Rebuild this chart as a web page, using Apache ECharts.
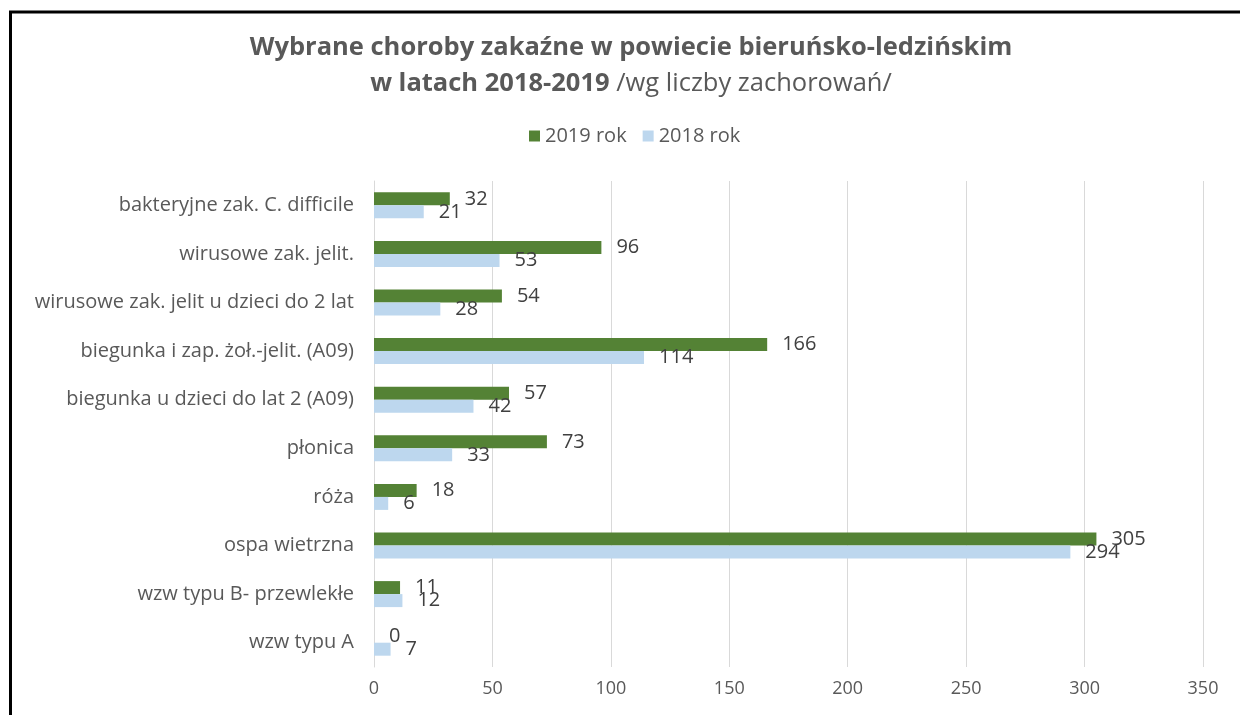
<!DOCTYPE html>
<html>
<head>
<meta charset="utf-8">
<script src="https://cdn.jsdelivr.net/npm/echarts@6/dist/echarts.min.js"></script>
<style>
  html, body { margin: 0; padding: 0; background: #fff; }
  #chart { width: 1240px; height: 715px; }
</style>
</head>
<body>
<div id="chart"></div>
<script>
  // dane
  const categories = [
    'bakteryjne zak. C. difficile',
    'wirusowe zak. jelit.',
    'wirusowe zak. jelit u dzieci do 2 lat',
    'biegunka i zap. żoł.-jelit. (A09)',
    'biegunka u dzieci do lat 2 (A09)',
    'płonica',
    'róża',
    'ospa wietrzna',
    'wzw typu B- przewlekłe',
    'wzw typu A'
  ];
  const values2019 = [32, 96, 54, 166, 57, 73, 18, 305, 11, 0];
  const values2018 = [21, 53, 28, 114, 42, 33, 6, 294, 12, 7];
  const seriesNames = ['2019 rok', '2018 rok'];

  const FONT = '"Open Sans", Lato, sans-serif';
  const chart = echarts.init(document.getElementById('chart'));

  const labelStyle = {
    show: true,
    position: 'right',
    distance: 15,
    color: '#404040',
    fontSize: 20,
    fontFamily: FONT
  };

  chart.setOption({
    animation: false,
    legend: {
      data: seriesNames,
      top: 121,
      left: 524,
      itemWidth: 11,
      itemHeight: 11,
      itemGap: 16,
      icon: 'rect',
      textStyle: { color: '#595959', fontSize: 20, fontFamily: FONT }
    },
    grid: { left: 374, right: 37, top: 181, bottom: 48, containLabel: false },
    xAxis: {
      type: 'value',
      min: 0,
      max: 350,
      interval: 50,
      axisLine: { show: false },
      axisTick: { show: false },
      splitLine: { lineStyle: { color: '#d9d9d9', width: 1 } },
      axisLabel: { color: '#595959', fontSize: 18, fontFamily: FONT, margin: 13 }
    },
    yAxis: {
      type: 'category',
      data: categories,
      inverse: true,
      axisLine: { show: true, lineStyle: { color: '#d9d9d9' } },
      axisTick: { show: false },
      axisLabel: { color: '#595959', fontSize: 20, fontFamily: FONT, margin: 20 }
    },
    series: [
      {
        name: seriesNames[0],
        type: 'bar',
        data: values2019,
        barWidth: 13,
        barGap: '0%',
        itemStyle: { color: '#548235' },
        label: labelStyle
      },
      {
        name: seriesNames[1],
        type: 'bar',
        data: values2018,
        barWidth: 13,
        barGap: '0%',
        itemStyle: { color: '#bdd7ee' },
        label: labelStyle
      }
    ],
    graphic: [
      {
        type: 'rect',
        shape: { x: 10.5, y: 12, width: 1400, height: 900 },
        style: { fill: 'none', stroke: '#000', lineWidth: 3 },
        silent: true
      },
      // tytuł (dwie linie, druga częściowo pogrubiona)
      {
        type: 'text',
        x: 631,
        y: 30,
        silent: true,
        style: {
          text: '{b|Wybrane choroby zakaźne w powiecie bieruńsko-ledzińskim}\n{b|w latach 2018-2019}{n|\u00a0/wg liczby zachorowań/}',
          align: 'center',
          verticalAlign: 'top',
          rich: {
            b: { fontFamily: FONT, fontWeight: 'bold', fontSize: 25.5, fill: '#595959', lineHeight: 36 },
            n: { fontFamily: FONT, fontWeight: 'normal', fontSize: 25.5, fill: '#595959', lineHeight: 36 }
          }
        }
      }
    ]
  });
</script>
</body>
</html>
